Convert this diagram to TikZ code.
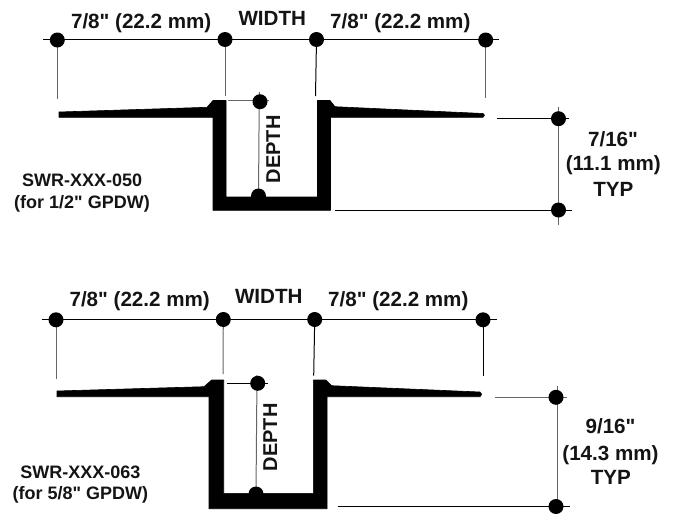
\documentclass[tikz,border=0pt]{standalone}
\usepackage{fontspec}
\setmainfont{Liberation Sans}[Ligatures=TeXOff]
\usetikzlibrary{backgrounds}
\tikzset{
  x=1pt,y=-1pt,
  dimdot/.style={circle,fill=black,draw=none,inner sep=0pt,minimum size=15pt},
  dimline/.style={draw=black,line width=1pt},
  greyline/.style={draw=black!60,line width=1pt},
  profile/.style={fill=black,draw=black,line width=.6pt,line join=round},
  lbl/.style={inner sep=0pt,anchor=base,font=\fontsize{20.6}{24}\selectfont\bfseries,text=black!92},
  partlbl/.style={inner sep=0pt,anchor=base,font=\fontsize{18}{21}\selectfont\bfseries,text=black!92},
  vlbl/.style={inner sep=0pt,anchor=base,rotate=90,font=\fontsize{20}{24}\selectfont\bfseries,text=black!92}
}
\begin{document}
\begin{tikzpicture}
\useasboundingbox (0,0) rectangle (678,514);
% --- upper profile ---
\fill[profile] (59,112) -- (207,107.3) -- (213,100.5) -- (226,100.5) -- (226,197) -- (317.5,197) -- (317.5,100.5) -- (330,100.5) -- (335,106.7) -- (483,113.5) -- (484.5,115.2) -- (483,117.3) -- (330.5,117.3) -- (330.5,210.3) -- (213,210.3) -- (213,117.3) -- (59,117.3) -- cycle;
\node[dimdot] (a1) at (57.3,40) {};
\node[dimdot] (a2) at (225,39.5) {};
\node[dimdot] (a3) at (316.5,39.5) {};
\node[dimdot] (a4) at (485.7,40) {};
\coordinate (aL) at (43,39.3);
\coordinate (aR) at (499,39.3);
\coordinate (e1) at (57.3,99);
\coordinate (e2) at (225,96);
\coordinate (e3) at (315.5,96);
\coordinate (e4) at (485.7,97.7);
\node[dimdot] (d1) at (260,101.7) {};
\node[dimdot] (d2) at (258.5,196) {};
\coordinate (d0) at (259.3,92);
\coordinate (dh1) at (228,100.7);
\coordinate (dh2) at (269,100.7);
\node[dimdot] (r1) at (558.5,118.7) {};
\node[dimdot] (r2) at (558.5,210) {};
\coordinate (r0) at (558.3,107.3);
\coordinate (r3) at (558.3,225);
\coordinate (h1) at (497,118.3);
\coordinate (h1e) at (569,118.3);
\coordinate (h2) at (335,210.3);
\coordinate (h2e) at (572,210.3);
\begin{pgfonlayer}{background}
\draw[dimline] (aL) -- (aR);
\draw[greyline] (a1.center) -- (e1);
\draw[greyline] (a2.center) -- (e2);
\draw[dimline] (a3.center) -- (e3);
\draw[greyline] (a4.center) -- (e4);
\draw[greyline] (d0) -- (d2.center);
\draw[greyline] (dh1) -- (dh2);
\draw[greyline] (r0) -- (r3);
\draw[dimline] (h1) -- (h1e);
\draw[dimline] (h2) -- (h2e);
\end{pgfonlayer}
\node[lbl] (t1) at (141.2,28.5) {7/8" (22.2 mm)};
\node[lbl] (t2) at (272.3,25) {WIDTH};
\node[lbl] (t3) at (400.3,28.5) {7/8" (22.2 mm)};
\node[vlbl] (t4) at (280,149.3) {DEPTH};
\node[lbl] (t5) at (613,146) {7/16"};
\node[lbl] (t6) at (613.3,170.5) {(11.1 mm)};
\node[lbl] (t7) at (613.3,196.7) {TYP};
\node[partlbl] (t8) at (82.2,186.7) {SWR-XXX-050};
\node[partlbl] (t9) at (82,208) {(for 1/2" GPDW)};
% --- lower profile ---
\fill[profile] (57,391) -- (204,386.7) -- (211.7,380) -- (223.7,380) -- (223.7,493.3) -- (313.3,493.3) -- (313.3,380) -- (326,380) -- (331.7,385.7) -- (480,392) -- (481.7,394.3) -- (480,396.7) -- (327,396.7) -- (327,508.7) -- (209,508.7) -- (209,396.7) -- (57,396.7) -- cycle;
\node[dimdot] (b1) at (56,319.8) {};
\node[dimdot] (b2) at (223.3,319.5) {};
\node[dimdot] (b3) at (314.7,319.5) {};
\node[dimdot] (b4) at (483,319.8) {};
\coordinate (bL) at (41.7,319.3);
\coordinate (bR) at (496.7,319.3);
\coordinate (f1) at (56,379);
\coordinate (f2) at (223,374);
\coordinate (f3) at (313.7,375.7);
\coordinate (f4) at (483,375.7);
\node[dimdot] (g1) at (257.7,383.3) {};
\node[dimdot] (g2) at (256,494) {};
\coordinate (g0) at (257,375);
\coordinate (gh1) at (226.7,383.3);
\coordinate (gh2) at (268,383.3);
\node[dimdot] (s1) at (556,397.3) {};
\node[dimdot] (s2) at (556,506.5) {};
\coordinate (s0) at (557.3,386);
\coordinate (s3) at (557.3,507);
\coordinate (k1) at (495,397.7);
\coordinate (k1e) at (566.7,397.7);
\coordinate (k2) at (337.7,506.7);
\coordinate (k2e) at (570,506.7);
\begin{pgfonlayer}{background}
\draw[dimline] (bL) -- (bR);
\draw[greyline] (b1.center) -- (f1);
\draw[greyline] (b2.center) -- (f2);
\draw[dimline] (b3.center) -- (f3);
\draw[dimline] (b4.center) -- (f4);
\draw[greyline] (g0) -- (g2.center);
\draw[dimline] (gh1) -- (gh2);
\draw[greyline] (s0) -- (s3);
\draw[greyline] (k1) -- (k1e);
\draw[dimline] (k2) -- (k2e);
\end{pgfonlayer}
\node[lbl] (u1) at (139.7,306) {7/8" (22.2 mm)};
\node[lbl] (u2) at (268.8,303.3) {WIDTH};
\node[lbl] (u3) at (398.3,306) {7/8" (22.2 mm)};
\node[vlbl] (u4) at (277,437.3) {DEPTH};
\node[lbl] (u5) at (610.5,433.3) {9/16"};
\node[lbl] (u6) at (610.5,460.7) {(14.3 mm)};
\node[lbl] (u7) at (610.8,484) {TYP};
\node[partlbl] (u8) at (80.3,478.5) {SWR-XXX-063};
\node[partlbl] (u9) at (80.4,499.3) {(for 5/8" GPDW)};
\end{tikzpicture}
\end{document}
